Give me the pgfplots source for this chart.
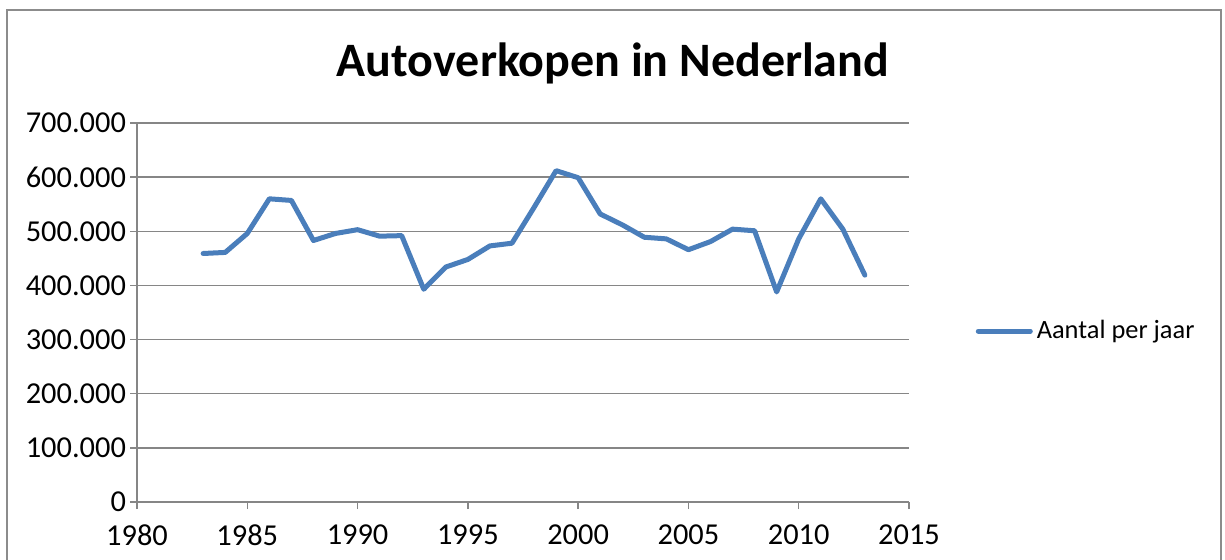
\documentclass[border=0pt]{standalone}
\usepackage{pgfplots}
\pgfplotsset{compat=1.18}
\usepackage{fontspec}
\setmainfont{Carlito}
\definecolor{serie}{HTML}{4A7EBB}
\definecolor{gridc}{HTML}{868686}
\definecolor{framec}{HTML}{8C8C8C}
\begin{document}
\begin{tikzpicture}
\useasboundingbox (-68.5pt,-28.5pt) rectangle (544pt,251pt);
\begin{axis}[
  scale only axis,
  width=386pt, height=189.5pt,
  xmin=1980, xmax=2015, ymin=0, ymax=700000,
  xtick={1980,1985,...,2015},
  ytick={0,100000,...,700000},
  axis x line*=bottom, axis y line*=left,
  axis line style={gridc, line width=0.75pt, -},
  ymajorgrids, grid style={gridc, line width=0.75pt},
  tick align=outside, major tick length=3.5pt,
  tick style={gridc, line width=0.75pt},
  /pgf/number format/assume math mode=true,
  xticklabel={\pgfmathprintnumber[1000 sep={}]{\tick}},
  yticklabel={\pgfmathprintnumber[fixed,1000 sep={.}]{\tick}},
  tick label style={font=\fontsize{15.2}{18}\selectfont, text=black},
  xticklabel style={yshift=-4.5pt},
  yticklabel style={xshift=1.5pt},
  scaled y ticks=false,
  title={Autoverkopen in Nederland},
  title style={at={(0.6166,1.125)}, anchor=center, font=\fontsize{24}{28}\bfseries\selectfont},
  legend style={at={(1.086,0.451)}, anchor=west, draw=none, fill=none, inner sep=0pt,
    font=\fontsize{13.2}{16}\selectfont, legend cell align=left},
  legend image code/.code={\draw[#1, line width=2.5pt, line cap=round] (0pt,0pt) -- (26pt,0pt);},
]
\addplot[serie, line width=2.5pt, line join=round, line cap=round] coordinates {
(1983,459000) (1984,461000) (1985,496000) (1986,560000) (1987,557000)
(1988,483000) (1989,496000) (1990,503000) (1991,491000) (1992,492000)
(1993,393000) (1994,434000) (1995,448000) (1996,473000) (1997,478000)
(1998,544000) (1999,612000) (2000,599000) (2001,532000) (2002,512000)
(2003,489000) (2004,486000) (2005,466000) (2006,481000) (2007,504000)
(2008,501000) (2009,388000) (2010,486000) (2011,560000) (2012,504000)
(2013,419000)
};
\addlegendentry{Aantal per jaar}
\end{axis}
\draw[framec, line width=0.75pt] (-65pt,-60pt) -- (-65pt,246pt) -- (542pt,246pt) -- (542pt,-60pt);
\end{tikzpicture}
\end{document}
